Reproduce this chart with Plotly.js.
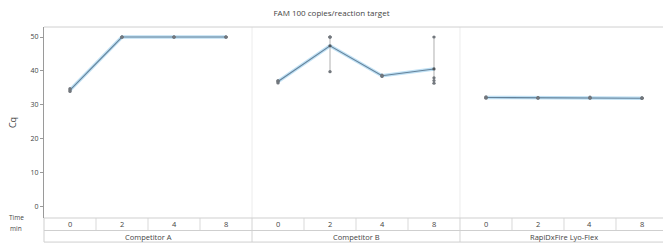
<!DOCTYPE html>
<html>
<head>
<meta charset="utf-8">
<script src="https://cdn.plot.ly/plotly-3.0.1.min.js"></script>
<style>
html,body{margin:0;padding:0;background:#fff;overflow:hidden;}
#chart{width:663px;height:244px;}
</style>
</head>
<body>
<div id="chart"></div>
<script>
// ---- data ----
const groups = ['Competitor A', 'Competitor B', 'RapiDxFire Lyo-Flex'];
const times = ['0', '2', '4', '8'];
const meanA = [34.4, 50, 50, 50];
const meanB = [36.9, 47.4, 38.6, 40.6];
const meanR = [32.2, 32.1, 32.1, 32.0];
const repA = [[34.0, 34.8], [50, 50], [50, 50], [50, 50]];
const repB = [[36.5, 37.2], [50, 50, 50, 39.8], [38.4, 38.8], [50, 38.0, 37.2, 36.4]];
const repR = [[32.0, 32.4], [32.0, 32.2], [32.0, 32.3], [32.0, 32.1]];

const means = [meanA, meanB, meanR];
const reps = [repA, repB, repR];

const traces = [];
const shapes = [];
const annotations = [];
const gridCol = '#d9d9d9';

groups.forEach((g, gi) => {
  const xs = times.map((t, ti) => gi * 4 + ti);
  const m = means[gi];
  const r = reps[gi];
  const hi = r.map((a, i) => Math.max(...a) - m[i]);
  const lo = r.map((a, i) => m[i] - Math.min(...a));
  // error bars (range)
  traces.push({
    x: xs, y: m, type: 'scatter', mode: 'markers',
    marker: {size: 0.1, color: 'rgba(0,0,0,0)'},
    error_y: {type: 'data', symmetric: false, array: hi, arrayminus: lo,
              color: '#b0b0b0', thickness: 1, width: 1.5},
    hoverinfo: 'skip', showlegend: false
  });
  // glow line
  traces.push({
    x: xs, y: m, type: 'scatter', mode: 'lines',
    line: {color: '#bfe0f4', width: 3.5}, hoverinfo: 'skip', showlegend: false
  });
  // main line
  traces.push({
    x: xs, y: m, type: 'scatter', mode: 'lines+markers',
    line: {color: '#64829a', width: 1.1},
    marker: {size: 3.2, color: '#50565c'}, showlegend: false
  });
  // replicate points
  const rx = [], ry = [];
  r.forEach((a, i) => a.forEach(v => { rx.push(xs[i]); ry.push(v); }));
  traces.push({
    x: rx, y: ry, type: 'scatter', mode: 'markers',
    marker: {size: 3.2, color: '#72777d'}, showlegend: false
  });
  // group label
  annotations.push({
    x: gi * 4 + 1.5, y: -0.0995, xref: 'x', yref: 'paper', text: g,
    showarrow: false, font: {size: 7.5, color: '#444'}, xanchor: 'center', yanchor: 'middle'
  });
  times.forEach((t, ti) => {
    annotations.push({
      x: gi * 4 + ti, y: -0.033, xref: 'x', yref: 'paper', text: t,
      showarrow: false, font: {size: 7.5, color: '#444'}, xanchor: 'center', yanchor: 'middle'
    });
  });
});

// panel separators (in plot and through table)
[3.5, 7.5].forEach(v => {
  shapes.push({type: 'line', xref: 'x', yref: 'paper', x0: v, x1: v, y0: -0.126, y1: 0,
               line: {color: '#d4d4d4', width: 1}});
  shapes.push({type: 'line', xref: 'x', yref: 'paper', x0: v, x1: v, y0: 0, y1: 1,
               line: {color: '#ececec', width: 1}});
});
// column separators within time row
for (let k = 0; k < 11; k++) {
  const v = k + 0.5;
  if (v === 3.5 || v === 7.5) continue;
  shapes.push({type: 'line', xref: 'x', yref: 'paper', x0: v, x1: v, y0: -0.0654, y1: 0,
               line: {color: gridCol, width: 1}});
}
// horizontal table lines
[0, -0.0654, -0.126].forEach(yy => {
  shapes.push({type: 'line', xref: 'paper', yref: 'paper', x0: 0, x1: 1, y0: yy, y1: yy,
               line: {color: '#cfcfcf', width: 1}});
});
// left border through table
shapes.push({type: 'line', xref: 'paper', yref: 'paper', x0: 0, x1: 0, y0: -0.126, y1: 0,
             line: {color: '#cfcfcf', width: 1}});
// top border
shapes.push({type: 'line', xref: 'paper', yref: 'paper', x0: 0, x1: 1, y0: 1, y1: 1,
             line: {color: '#d0d0d0', width: 1}});

annotations.push({x: -0.03, y: -0.028, xref: 'paper', yref: 'paper', text: 'Time',
  showarrow: false, font: {size: 6.5, color: '#444'}, xanchor: 'right', yanchor: 'bottom', borderpad: 0});
annotations.push({x: -0.034, y: -0.028, xref: 'paper', yref: 'paper', text: 'min',
  showarrow: false, font: {size: 6.5, color: '#444'}, xanchor: 'right', yanchor: 'top', borderpad: 0});

const layout = {
  width: 663, height: 244,
  margin: {l: 44, r: 0, t: 27, b: 26},
  paper_bgcolor: '#fff', plot_bgcolor: '#fff',
  font: {family: 'Open Sans, sans-serif', color: '#444'},
  title: {text: 'FAM 100 copies/reaction target', x: 0.5, xanchor: 'center', y: 0.945, yanchor: 'middle',
          font: {size: 8, color: '#444'}},
  xaxis: {range: [-0.5, 11.404], showgrid: false, zeroline: false, showticklabels: false,
          ticks: '', showline: false, fixedrange: true},
  yaxis: {range: [-3.24, 52.94], tickvals: [0, 10, 20, 30, 40, 50], showgrid: false, zeroline: false,
          showline: true, linecolor: '#9a9a9a', linewidth: 1, ticks: 'outside', ticklen: 3,
          tickcolor: '#9a9a9a', tickfont: {size: 7, color: '#444'},
          title: {text: 'Cq', font: {size: 9, color: '#444'}, standoff: 12}},
  shapes: shapes,
  annotations: annotations,
  showlegend: false
};

Plotly.newPlot('chart', traces, layout, {displayModeBar: false, staticPlot: true});
</script>
</body>
</html>
